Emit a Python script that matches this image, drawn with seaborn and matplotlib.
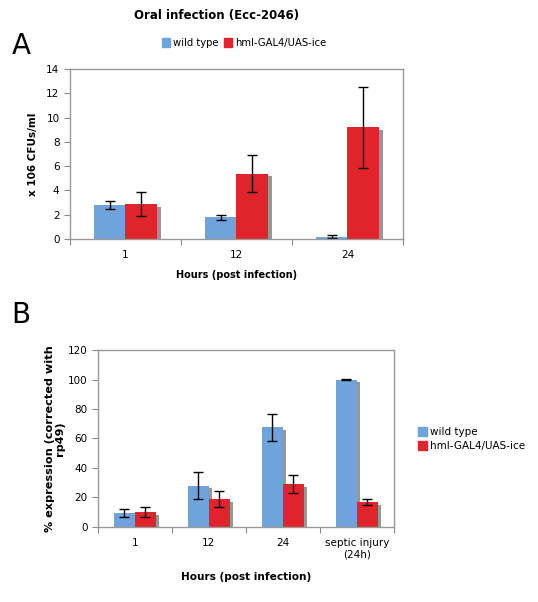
import numpy as np
import pandas as pd
import matplotlib
matplotlib.use("Agg")
import matplotlib.pyplot as plt
import matplotlib.patheffects as pe
import seaborn as sns

# panel A - bacterial load
hours_a = ["1", "12", "24"]
wt_a = [2.8, 1.8, 0.2]
wt_a_err = [0.35, 0.2, 0.1]
ice_a = [2.9, 5.4, 9.2]
ice_a_err = [1.0, 1.55, 3.35]

# panel B - expression
hours_b = ["1", "12", "24", "septic injury\n(24h)"]
wt_b = [9.5, 28, 67.5, 100]
wt_b_err = [3, 9, 9, 0.2]
ice_b = [10, 19, 29, 17]
ice_b_err = [3.5, 5.5, 6, 2]

groups = ["wild type", "hml-GAL4/UAS-ice"]
colors = ["#6fa3dc", "#e0242b"]

sns.set_style("white")
plt.rcParams["font.family"] = ["DejaVu Sans"]
plt.rcParams["text.color"] = "black"
plt.rcParams["axes.labelcolor"] = "black"
plt.rcParams["xtick.labelcolor"] = "black"
plt.rcParams["ytick.labelcolor"] = "black"

fig = plt.figure(figsize=(5.38, 6.02), dpi=100)
axA = fig.add_axes([0.130, 0.603, 0.619, 0.282])
axB = fig.add_axes([0.182, 0.1246, 0.550, 0.294])


def draw(ax, cats, v1, e1, v2, e2, ymax, step, xl_size):
    df = pd.DataFrame({
        "hours": cats + cats,
        "value": v1 + v2,
        "group": [groups[0]] * len(cats) + [groups[1]] * len(cats),
    })
    sns.barplot(data=df, x="hours", y="value", hue="group", palette=colors,
                width=0.57, ax=ax, errorbar=None, legend=False, saturation=1)
    shadow = [pe.SimplePatchShadow(offset=(2.5, -2), shadow_rgbFace="#8c8c8c", alpha=0.9), pe.Normal()]
    errs = e1 + e2
    for p, err in zip(ax.patches, errs):
        p.set_path_effects(shadow)
        p.set_edgecolor("none")
        cx = p.get_x() + p.get_width() / 2
        ax.errorbar(cx, p.get_height(), yerr=err, color="black", lw=1,
                    capsize=3.5, capthick=1)
    n = len(cats)
    ax.set_xlim(-0.5, n - 0.5)
    ax.set_ylim(0, ymax)
    ax.set_yticks(np.arange(0, ymax + 1, step))
    ax.set_xticks(range(n))
    ax.set_xticklabels(cats, fontsize=7.5)
    ax.set_xticks(np.arange(-0.5, n, 1), minor=True)
    ax.tick_params(axis="x", which="major", length=0, pad=8)
    ax.tick_params(axis="x", which="minor", length=4, width=0.8, color="#888888", direction="out", bottom=True)
    ax.tick_params(axis="y", length=4, width=0.8, color="#888888", direction="out", left=True, labelsize=7.5)
    for s in ax.spines.values():
        s.set_color("#999999")
        s.set_linewidth(1.0)
    ax.set_xlabel("Hours (post infection)", fontsize=xl_size, fontweight="bold")


draw(axA, hours_a, wt_a, wt_a_err, ice_a, ice_a_err, 14, 2, 7)
axA.set_ylabel("x 106 CFUs/ml", fontsize=7.5, fontweight="bold", labelpad=6)
axA.xaxis.labelpad = 7

draw(axB, hours_b, wt_b, wt_b_err, ice_b, ice_b_err, 120, 20, 7.6)
axB.set_ylabel("% expression (corrected with\nrp49)", fontsize=8.1, fontweight="bold",
               labelpad=2, linespacing=1.0)
axB.xaxis.labelpad = 9

handles = [plt.Rectangle((0, 0), 1, 1, color=c) for c in colors]
fig.legend(handles, groups, loc="center", bbox_to_anchor=(244 / 538, 1 - 43 / 602), ncol=2,
           frameon=False, fontsize=7.2, handlelength=0.8, handleheight=0.9,
           handletextpad=0.3, columnspacing=0.5)
fig.legend(handles, groups, loc="center left", bbox_to_anchor=(409 / 538, 1 - 439 / 602),
           frameon=False, fontsize=7.5, handlelength=0.8, handleheight=0.9,
           handletextpad=0.3, labelspacing=0.4)

fig.text(217 / 538, 1 - 16 / 602, "Oral infection (Ecc-2046)", ha="center", va="center",
         fontsize=8.5, fontweight="bold")
fig.text(12 / 538, 1 - 46 / 602, "A", ha="left", va="center", fontsize=20)
fig.text(11 / 538, 1 - 315 / 602, "B", ha="left", va="center", fontsize=20)

fig.savefig("out.png", dpi=100)
